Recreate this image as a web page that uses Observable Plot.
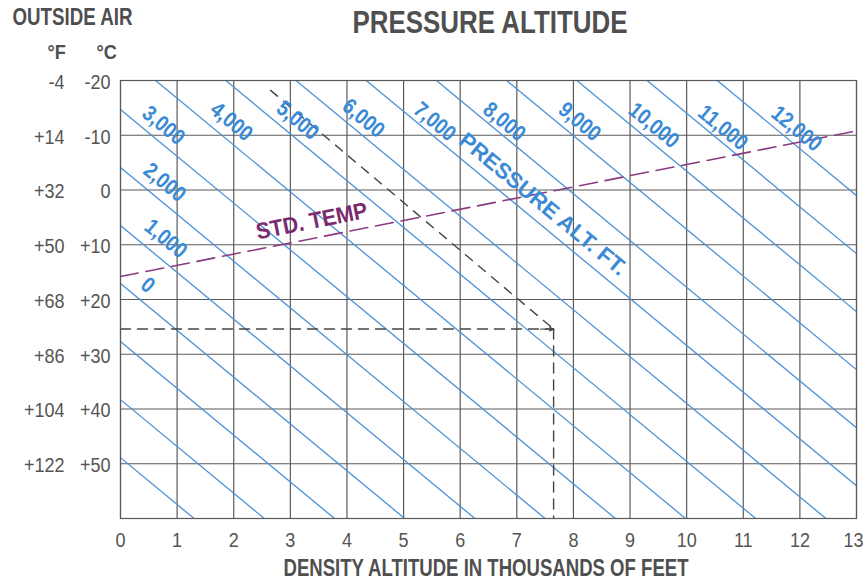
<!DOCTYPE html>
<html>
<head>
<meta charset="utf-8">
<script src="https://cdn.jsdelivr.net/npm/d3@7"></script>
<script src="https://cdn.jsdelivr.net/npm/@observablehq/plot@0.6"></script>
<style>
  html, body { margin: 0; padding: 0; background: #fff; }
  #chart svg { display: block; }
</style>
</head>
<body>
<div id="chart"></div>
<script>
// ---- data ----
const densityTicks = [0, 1, 2, 3, 4, 5, 6, 7, 8, 9, 10, 11, 12, 13];
const celsiusTicks = [-20, -10, 0, 10, 20, 30, 40, 50];
const celsiusLabels = ["-20", "-10", "0", "+10", "+20", "+30", "+40", "+50"];
const fahrenheitLabels = ["-4", "+14", "+32", "+50", "+68", "+86", "+104", "+122"];
const gridTemps = [-20, -10, 0, 10, 20, 30, 40, 50, 60];

// pressure-altitude lines (thousands of ft) and the density altitude where each crosses -20 °C and +60 °C
const pressureAlt = [-3, -2, -1, 0, 1, 2, 3, 4, 5, 6, 7, 8, 9, 10, 11, 12];
const daAtMinus20 = [-8.06, -6.82, -5.58, -4.34, -3.10, -1.86, -0.62, 0.62, 1.86, 3.10, 4.34, 5.58, 6.82, 8.06, 9.30, 10.54];
const daAtPlus60 = [1.30, 2.54, 3.78, 5.02, 6.26, 7.50, 8.74, 9.98, 11.22, 12.46, 13.70, 14.94, 16.18, 17.42, 18.66, 19.90];

// label text and their positions (density altitude, °C)
const paLabels = ["0", "1,000", "2,000", "3,000", "4,000", "5,000", "6,000", "7,000", "8,000", "9,000", "10,000", "11,000", "12,000"];
const paLabelDA = [0.48, 0.80, 0.78, 0.76, 1.96, 3.13, 4.29, 5.55, 6.78, 8.11, 9.42, 10.64, 11.94];
const paLabelT = [17.4, 8.9, -1.4, -11.8, -12.5, -12.7, -13.1, -12.5, -12.5, -12.5, -11.8, -11.4, -11.2];
const paTitle = {text: "PRESSURE ALT. FT.", da: 7.46, t: 2.6};

// standard temperature line (density altitude, °C)
const stdTempDA = [0, 13];
const stdTempC = [15.8, -10.8];
const stdLabel = {text: "STD. TEMP", da: 3.38, t: 5.7};

// worked example (dashed black)
const exampleDiagDA = [2.65, 7.65];
const exampleDiagC = [-18.2, 25.4];
const exampleTempC = 25.4;
const exampleDA = 7.65;
const exampleArrowFromDA = 7.42;

// ---- build tables ----
const paLines = pressureAlt.map((p, i) => ({p, x1: daAtMinus20[i], y1: -20, x2: daAtPlus60[i], y2: 60}));
const paText = paLabels.map((t, i) => ({text: t, x: paLabelDA[i], y: paLabelT[i]}));
const stdLine = stdTempDA.map((x, i) => ({x, y: stdTempC[i]}));
const exDiag = exampleDiagDA.map((x, i) => ({x, y: exampleDiagC[i]}));
const exHoriz = [{x: 0, y: exampleTempC}, {x: exampleDA, y: exampleTempC}];
const exVert = [{x: exampleDA, y: exampleTempC}, {x: exampleDA, y: 60}];
const exArrow = [{x1: exampleArrowFromDA, x2: exampleDA, y: exampleTempC}];
const tRows = celsiusTicks.map((c, i) => ({c, f: fahrenheitLabels[i], cl: celsiusLabels[i]}));
const lastTick = densityTicks[densityTicks.length - 1];

const FONT = "'Liberation Sans', Arial, sans-serif";
const BLUE = "#4a93d6";
const BLUE_TEXT = "#3a8ad6";
const PURPLE = "#8a3a80";
const GRAY = "#555555";
const DARK = "#4f4f4f";
const GRID = "#5a5a5a";

const chart = Plot.plot({
  width: 865,
  height: 583,
  marginLeft: 120,
  marginRight: 9,
  marginTop: 80,
  marginBottom: 65,
  style: {fontFamily: FONT, background: "#fff", overflow: "visible"},
  x: {domain: [0, 13], axis: null},
  y: {domain: [60, -20], axis: null},
  marks: [
    // grid
    Plot.ruleX(densityTicks, {stroke: GRID, strokeWidth: 1.2}),
    Plot.ruleY(gridTemps, {stroke: GRID, strokeWidth: 1.2}),
    // pressure altitude lines
    Plot.link(paLines, {x1: "x1", y1: "y1", x2: "x2", y2: "y2", stroke: BLUE, strokeWidth: 1.3, clip: true}),
    // standard temperature
    Plot.line(stdLine, {x: "x", y: "y", stroke: PURPLE, strokeWidth: 1.6, strokeDasharray: "18,8", clip: true}),
    // worked example
    Plot.line(exDiag, {x: "x", y: "y", stroke: "#444", strokeWidth: 1.4, strokeDasharray: "9,8"}),
    Plot.line(exHoriz, {x: "x", y: "y", stroke: "#444", strokeWidth: 1.4, strokeDasharray: "10,7"}),
    Plot.line(exVert, {x: "x", y: "y", stroke: "#444", strokeWidth: 1.4, strokeDasharray: "10,7"}),
    Plot.arrow(exArrow, {x1: "x1", x2: "x2", y1: "y", y2: "y", stroke: "#444", strokeWidth: 1.3, headLength: 11, headAngle: 50, strokeOpacity: 0.9}),
    Plot.frame({stroke: GRID, strokeWidth: 1.2}),
    // labels on chart
    Plot.text(paText, {x: "x", y: "y", text: "text", rotate: 39.6, fill: BLUE_TEXT, fontSize: 22, fontWeight: "bold", className: "squeeze88"}),
    Plot.text([paTitle], {x: "da", y: "t", text: "text", rotate: 39.6, fill: BLUE_TEXT, fontSize: 22, fontWeight: "bold", className: "w210"}),
    Plot.text([stdLabel], {x: "da", y: "t", text: "text", rotate: -11.2, fill: "#7b2a70", fontSize: 23, fontWeight: "bold", className: "w113"}),
    // axes
    Plot.text(densityTicks.filter(d => d !== lastTick), {x: d => d, frameAnchor: "bottom", lineAnchor: "middle", dy: 22, fill: GRAY, fontSize: 20, className: "squeeze90"}),
    Plot.text([lastTick], {x: d => d, frameAnchor: "bottom", lineAnchor: "middle", dx: -3, dy: 22, fill: GRAY, fontSize: 20, className: "squeeze90"}),
    Plot.text(tRows, {y: "c", text: "cl", frameAnchor: "left", lineAnchor: "middle", dx: -10, dy: 2, textAnchor: "end", fill: GRAY, fontSize: 20, className: "squeeze90"}),
    Plot.text(tRows, {y: "c", text: "f", frameAnchor: "left", lineAnchor: "middle", dx: -56, dy: 2, textAnchor: "end", fill: GRAY, fontSize: 20, className: "squeeze90"}),
    // titles
    Plot.text(["PRESSURE ALTITUDE"], {frameAnchor: "top-left", lineAnchor: "middle", textAnchor: "start", dx: 232, dy: -57, fill: DARK, fontSize: 31, fontWeight: "bold", className: "w275"}),
    Plot.text(["OUTSIDE AIR"], {frameAnchor: "top-left", lineAnchor: "middle", textAnchor: "start", dx: -108, dy: -63, fill: DARK, fontSize: 23, fontWeight: "bold", className: "w120"}),
    Plot.text(["°F"], {frameAnchor: "top-left", lineAnchor: "middle", dx: -73, dy: -28, fill: DARK, fontSize: 21, fontWeight: "bold", className: "squeeze88"}),
    Plot.text(["°C"], {frameAnchor: "top-left", lineAnchor: "middle", dx: -24, dy: -28, fill: DARK, fontSize: 21, fontWeight: "bold", className: "squeeze88"}),
    Plot.text(["DENSITY ALTITUDE IN THOUSANDS OF FEET"], {frameAnchor: "bottom-left", lineAnchor: "middle", textAnchor: "start", dx: 163, dy: 50.5, fill: DARK, fontSize: 23, fontWeight: "bold", className: "w405"})
  ]
});
document.getElementById("chart").appendChild(chart);

// condense text the way the reference's narrow typeface looks
function squeeze(cls, fn) {
  chart.querySelectorAll("." + cls + " text").forEach(t => {
    const w = t.getComputedTextLength();
    t.setAttribute("textLength", fn(w));
    t.setAttribute("lengthAdjust", "spacingAndGlyphs");
  });
}
squeeze("squeeze88", w => w * 0.86);
squeeze("squeeze90", w => w * 0.9);
squeeze("w210", () => 210);
squeeze("w113", () => 113);
squeeze("w275", () => 275);
squeeze("w120", () => 120);
squeeze("w405", () => 405);
</script>
</body>
</html>
